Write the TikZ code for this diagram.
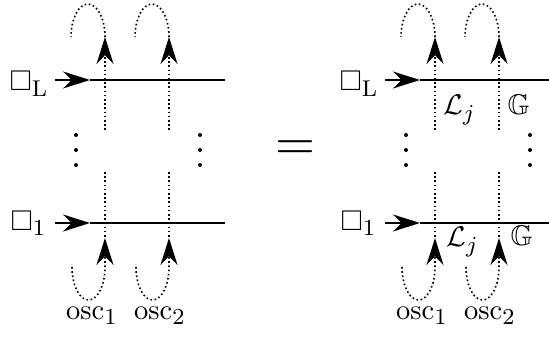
\documentclass[tikz,border=0pt]{standalone}
\usepackage{amsmath}
\usepackage{amssymb}
\usetikzlibrary{arrows.meta}
\usetikzlibrary{positioning}
\DeclareMathSizes{10}{10}{8}{7}
\tikzset{x=1pt, y=1pt,
	wire/.style={line width=1.8pt},
	ghost/.style={line width=1.6pt, dash pattern=on 1.6pt off 2.6pt},
	headtip/.style={-{Stealth[length=27pt,width=17pt]}},
	big/.style={scale=2.85, transform shape, inner sep=0pt},
	dot/.style={circle, fill, inner sep=0pt, minimum size=4pt}
}

\begin{document}
\begin{tikzpicture}
	\useasboundingbox (0,0) rectangle (549,340);
	% left side
	\node[big, anchor=base east] (topa) at (49,249) {$\Box_{\mathrm{L}}$};
	\node[big, anchor=base east] (bota) at (47,109) {$\Box_1$};
	\coordinate (sa) at (55,260);
	\coordinate (ta) at (90,260);
	\coordinate (ea) at (225,260);
	\coordinate (sb) at (55,117);
	\coordinate (tb) at (90,117);
	\coordinate (eb) at (225,117);
	\draw[wire, headtip] (sa) -- (ta);
	\draw[wire] (ta) -- (ea);
	\draw[wire, headtip] (sb) -- (tb);
	\draw[wire] (tb) -- (eb);
	\coordinate (u1) at (105,210);
	\coordinate (v1) at (105,303);
	\coordinate (u2) at (169,210);
	\coordinate (v2) at (169,303);
	\draw[ghost, headtip] (u1) -- (v1);
	\draw[ghost] (v1) arc[start angle=0, end angle=180, x radius=17, y radius=33];
	\draw[ghost, headtip] (u2) -- (v2);
	\draw[ghost] (v2) arc[start angle=0, end angle=180, x radius=17, y radius=33];
	\coordinate (w1) at (105,168);
	\coordinate (m1) at (105,102);
	\coordinate (l1) at (72,73);
	\coordinate (w2) at (169,168);
	\coordinate (m2) at (169,102);
	\coordinate (l2) at (136,73);
	\draw[ghost] (w1) -- (m1);
	\draw[ghost, headtip] (l1) arc[start angle=180, end angle=360, x radius=16.5, y radius=33] -- (m1);
	\draw[ghost] (w2) -- (m2);
	\draw[ghost, headtip] (l2) arc[start angle=180, end angle=360, x radius=16.5, y radius=33] -- (m2);
	\node[big, anchor=base] (osca) at (92,20) {$\mathrm{osc}_1$};
	\node[big, anchor=base] (oscb) at (160,20) {$\mathrm{osc}_2$};
	% equals
	\node[big, scale=1.8] (eq) at (295,190) {$=$};
	% right side
	\node[big, anchor=base east] (topb) at (379,249) {$\Box_{\mathrm{L}}$};
	\node[big, anchor=base east] (botb) at (377,109) {$\Box_1$};
	\coordinate (sc) at (385,260);
	\coordinate (tc) at (420,260);
	\coordinate (ec) at (549,260);
	\coordinate (sd) at (385,117);
	\coordinate (td) at (420,117);
	\coordinate (ed) at (549,117);
	\draw[wire, headtip] (sc) -- (tc);
	\draw[wire] (tc) -- (ec);
	\draw[wire, headtip] (sd) -- (td);
	\draw[wire] (td) -- (ed);
	\coordinate (u3) at (435,210);
	\coordinate (v3) at (435,303);
	\coordinate (u4) at (499,210);
	\coordinate (v4) at (499,303);
	\draw[ghost, headtip] (u3) -- (v3);
	\draw[ghost] (v3) arc[start angle=0, end angle=180, x radius=17, y radius=33];
	\draw[ghost, headtip] (u4) -- (v4);
	\draw[ghost] (v4) arc[start angle=0, end angle=180, x radius=17, y radius=33];
	\coordinate (w3) at (435,168);
	\coordinate (m3) at (435,102);
	\coordinate (l3) at (402,73);
	\coordinate (w4) at (499,168);
	\coordinate (m4) at (499,102);
	\coordinate (l4) at (466,73);
	\draw[ghost] (w3) -- (m3);
	\draw[ghost, headtip] (l3) arc[start angle=180, end angle=360, x radius=16.5, y radius=33] -- (m3);
	\draw[ghost] (w4) -- (m4);
	\draw[ghost, headtip] (l4) arc[start angle=180, end angle=360, x radius=16.5, y radius=33] -- (m4);
	\node[big, anchor=base] (oscc) at (422,20) {$\mathrm{osc}_1$};
	\node[big, anchor=base] (oscd) at (490,20) {$\mathrm{osc}_2$};
	\node[big, anchor=base west] (lja) at (443,225) {$\mathcal{L}_j$};
	\node[big, anchor=base west] (gga) at (507,225) {$\mathbb{G}$};
	\node[big, anchor=base west] (ljb) at (446,93) {$\mathcal{L}_j$};
	\node[big, anchor=base west] (ggb) at (510,94) {$\mathbb{G}$};
	% vertical dots
	\foreach \px in {76,200,406,530}
		\foreach \py in {175,190,205}
			\node[dot] at (\px,\py) {};
\end{tikzpicture}
\end{document}
